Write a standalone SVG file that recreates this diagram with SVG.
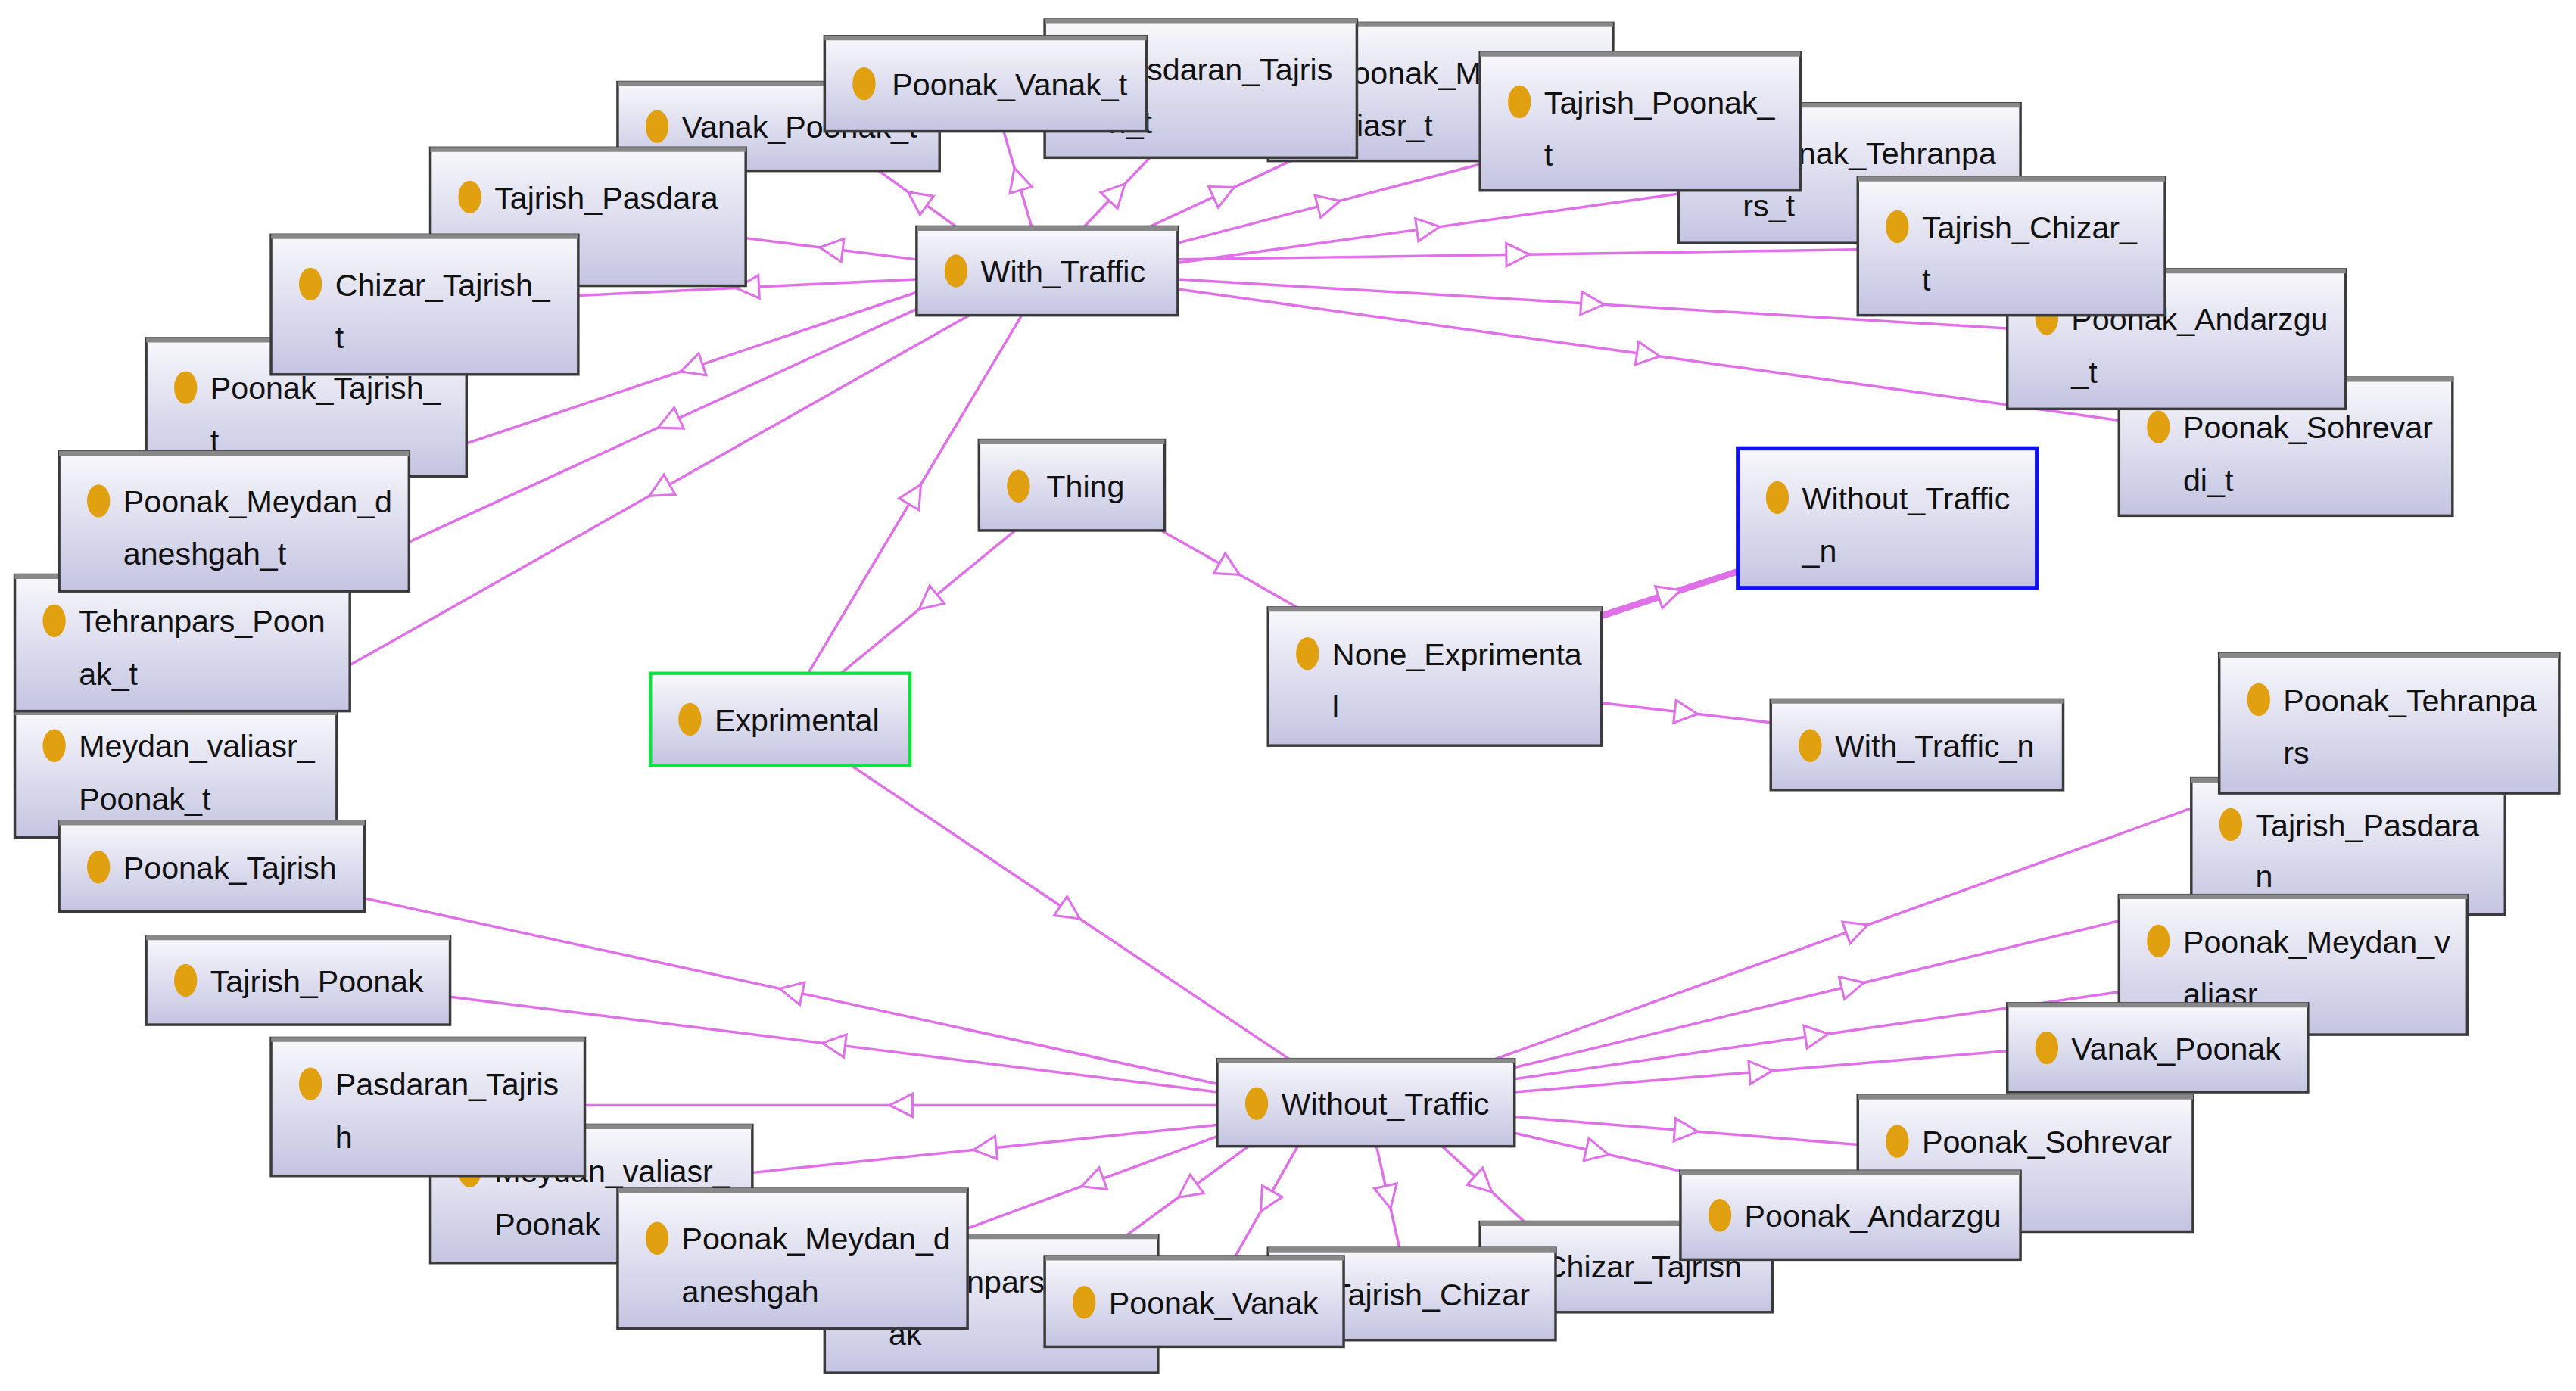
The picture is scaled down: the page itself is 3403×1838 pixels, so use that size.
<svg xmlns="http://www.w3.org/2000/svg" width="3403" height="1838" viewBox="0 0 3403 1838">
<style>
.n rect.b{fill:url(#g);stroke:#3a3a3a;stroke-width:1.6}
.n line.t{stroke:#888;stroke-width:3}
.n ellipse{fill:#e0a010}
.n text{font-family:"Liberation Sans Narrow","Liberation Sans",sans-serif;font-stretch:condensed;font-size:19px;fill:#111}
.e path{fill:none;stroke:#e070e8;stroke-width:1.6;marker-mid:url(#tri)}
</style>
<defs>
<linearGradient id="g" x1="0" y1="0" x2="0" y2="1"><stop offset="0" stop-color="#f8f8fc"/><stop offset="1" stop-color="#c4c4e2"/></linearGradient>
<marker id="tri" markerUnits="userSpaceOnUse" viewBox="-10 -10 20 20" markerWidth="20" markerHeight="20" refX="0" refY="0" orient="auto"><path d="M-7,-7 L7,0 L-7,7 z" fill="#fff" stroke="#e070e8" stroke-width="1.4"/></marker>
</defs>
<rect width="3403" height="1838" fill="#fff"/>
<g transform="scale(2.17)">
<g id="connectors" class="e">
<path d="M582,138 L558.5,121 L535,104"/>
<path d="M628,138 L619.5,109 L611,80"/>
<path d="M660,138 L680,117 L700,96"/>
<path d="M700,138 L745,117 L790,96"/>
<path d="M717,148 L809,124 L901,100"/>
<path d="M717,160 L869.5,139 L1022,118"/>
<path d="M717,158 L924,155 L1131,152"/>
<path d="M717,170 L969.5,185 L1222,200"/>
<path d="M717,176 L1003.5,216 L1290,256"/>
<path d="M558,158 L506,151.5 L454,145"/>
<path d="M558,170 L455,175 L352,180"/>
<path d="M558,178 L421,224 L284,270"/>
<path d="M565,185 L407,257.5 L249,330"/>
<path d="M590,192 L401.5,298.5 L213,405"/>
<path d="M741,660 L481.5,603.5 L222,547"/>
<path d="M741,665 L507.5,636 L274,607"/>
<path d="M741,673 L548.5,673 L356,673"/>
<path d="M741,685 L599.5,699.5 L458,714"/>
<path d="M741,692 L665,720 L589,748"/>
<path d="M760,698 L723,725 L686,752"/>
<path d="M790,698 L771,731.5 L752,765"/>
<path d="M838,698 L845,729 L852,760"/>
<path d="M878,698 L903,721 L928,744"/>
<path d="M922,690 L972.5,701.5 L1023,713"/>
<path d="M922,680 L1026.5,688.5 L1131,697"/>
<path d="M922,665 L1072,652.5 L1222,640"/>
<path d="M922,657 L1106,630.5 L1290,604"/>
<path d="M922,650 L1128,600 L1334,550"/>
<path d="M910,645 L1130.5,565.5 L1351,486"/>
<path d="M618,323 L565,366.5 L512,410"/>
<path d="M492,410 L557,301 L622,192"/>
<path d="M518,466 L651.5,555.5 L785,645"/>
<path d="M707,323 L748.5,346.5 L790,370"/>
<path d="M975,375 L1016.5,361.5 L1058,348" style="stroke-width:4"/>
<path d="M975,428 L1026.5,434 L1078,440"/>
</g>
<g id="Vanak_Poonak_t" class="n" transform="translate(376,50)"><rect class="b" width="196" height="54"/><line class="t" x1="0" y1="1" x2="196" y2="1"/><ellipse cx="24" cy="27" rx="7" ry="10"/><text x="39" y="34">Vanak_Poonak_t</text></g>
<g id="Poonak_Meydan_valiasr_t" class="n" transform="translate(772,14)"><rect class="b" width="210" height="84"/><line class="t" x1="0" y1="1" x2="210" y2="1"/><ellipse cx="24" cy="30" rx="7" ry="10"/><text x="39" y="37">Poonak_Meydan_v</text><text x="39" y="69">aliasr_t</text></g>
<g id="Pasdaran_Tajrish_t" class="n" transform="translate(636,12)"><rect class="b" width="190" height="84"/><line class="t" x1="0" y1="1" x2="190" y2="1"/><ellipse cx="24" cy="30" rx="7" ry="10"/><text x="39" y="37">Pasdaran_Tajris</text><text x="39" y="69">h_t</text></g>
<g id="Poonak_Vanak_t" class="n" transform="translate(502,22)"><rect class="b" width="196" height="58"/><line class="t" x1="0" y1="1" x2="196" y2="1"/><ellipse cx="24" cy="29" rx="7" ry="10"/><text x="41" y="36">Poonak_Vanak_t</text></g>
<g id="Poonak_Tehranpars_t" class="n" transform="translate(1022,63)"><rect class="b" width="208" height="85"/><line class="t" x1="0" y1="1" x2="208" y2="1"/><ellipse cx="24" cy="30" rx="7" ry="10"/><text x="39" y="37">Poonak_Tehranpa</text><text x="39" y="69">rs_t</text></g>
<g id="Tajrish_Poonak_t" class="n" transform="translate(901,32)"><rect class="b" width="195" height="84"/><line class="t" x1="0" y1="1" x2="195" y2="1"/><ellipse cx="24" cy="30" rx="7" ry="10"/><text x="39" y="37">Tajrish_Poonak_</text><text x="39" y="69">t</text></g>
<g id="Poonak_Sohrevardi_t" class="n" transform="translate(1290,230)"><rect class="b" width="203" height="84"/><line class="t" x1="0" y1="1" x2="203" y2="1"/><ellipse cx="24" cy="30" rx="7" ry="10"/><text x="39" y="37">Poonak_Sohrevar</text><text x="39" y="69">di_t</text></g>
<g id="Poonak_Andarzgu_t" class="n" transform="translate(1222,164)"><rect class="b" width="206" height="85"/><line class="t" x1="0" y1="1" x2="206" y2="1"/><ellipse cx="24" cy="30" rx="7" ry="10"/><text x="39" y="37">Poonak_Andarzgu</text><text x="39" y="69">_t</text></g>
<g id="Tajrish_Chizar_t" class="n" transform="translate(1131,108)"><rect class="b" width="187" height="84"/><line class="t" x1="0" y1="1" x2="187" y2="1"/><ellipse cx="24" cy="30" rx="7" ry="10"/><text x="39" y="37">Tajrish_Chizar_</text><text x="39" y="69">t</text></g>
<g id="Meydan_valiasr_Poonak_t" class="n" transform="translate(9,433)"><rect class="b" width="196" height="77"/><line class="t" x1="0" y1="1" x2="196" y2="1"/><ellipse cx="24" cy="21" rx="7" ry="10"/><text x="39" y="28">Meydan_valiasr_</text><text x="39" y="60">Poonak_t</text></g>
<g id="Tehranpars_Poonak_t" class="n" transform="translate(9,350)"><rect class="b" width="204" height="83"/><line class="t" x1="0" y1="1" x2="204" y2="1"/><ellipse cx="24" cy="28" rx="7" ry="10"/><text x="39" y="35">Tehranpars_Poon</text><text x="39" y="67">ak_t</text></g>
<g id="Poonak_Tajrish" class="n" transform="translate(36,500)"><rect class="b" width="186" height="55"/><line class="t" x1="0" y1="1" x2="186" y2="1"/><ellipse cx="24" cy="28" rx="7" ry="10"/><text x="39" y="35">Poonak_Tajrish</text></g>
<g id="Poonak_Tajrish_t" class="n" transform="translate(89,206)"><rect class="b" width="195" height="84"/><line class="t" x1="0" y1="1" x2="195" y2="1"/><ellipse cx="24" cy="30" rx="7" ry="10"/><text x="39" y="37">Poonak_Tajrish_</text><text x="39" y="69">t</text></g>
<g id="Poonak_Meydan_daneshgah_t" class="n" transform="translate(36,275)"><rect class="b" width="213" height="85"/><line class="t" x1="0" y1="1" x2="213" y2="1"/><ellipse cx="24" cy="30" rx="7" ry="10"/><text x="39" y="37">Poonak_Meydan_d</text><text x="39" y="69">aneshgah_t</text></g>
<g id="Tajrish_Pasdaran_t" class="n" transform="translate(262,90)"><rect class="b" width="192" height="84"/><line class="t" x1="0" y1="1" x2="192" y2="1"/><ellipse cx="24" cy="30" rx="7" ry="10"/><text x="39" y="37">Tajrish_Pasdara</text></g>
<g id="Chizar_Tajrish_t" class="n" transform="translate(165,143)"><rect class="b" width="187" height="85"/><line class="t" x1="0" y1="1" x2="187" y2="1"/><ellipse cx="24" cy="30" rx="7" ry="10"/><text x="39" y="37">Chizar_Tajrish_</text><text x="39" y="69">t</text></g>
<g id="With_Traffic" class="n" transform="translate(558,138)"><rect class="b" width="159" height="54"/><line class="t" x1="0" y1="1" x2="159" y2="1"/><ellipse cx="24" cy="27" rx="7" ry="10"/><text x="39" y="34">With_Traffic</text></g>
<g id="Thing" class="n" transform="translate(596,268)"><rect class="b" width="113" height="55"/><line class="t" x1="0" y1="1" x2="113" y2="1"/><ellipse cx="24" cy="28" rx="7" ry="10"/><text x="41" y="35">Thing</text></g>
<g id="Without_Traffic_n" class="n" transform="translate(1058,273)"><rect class="b" width="182" height="85" style="stroke:#1010f0;stroke-width:2.5"/><ellipse cx="24" cy="30" rx="7" ry="10"/><text x="39" y="37">Without_Traffic</text><text x="39" y="69">_n</text></g>
<g id="None_Exprimental" class="n" transform="translate(772,370)"><rect class="b" width="203" height="84"/><line class="t" x1="0" y1="1" x2="203" y2="1"/><ellipse cx="24" cy="28" rx="7" ry="10"/><text x="39" y="35">None_Exprimenta</text><text x="39" y="67">l</text></g>
<g id="With_Traffic_n" class="n" transform="translate(1078,426)"><rect class="b" width="178" height="55"/><line class="t" x1="0" y1="1" x2="178" y2="1"/><ellipse cx="24" cy="28" rx="7" ry="10"/><text x="39" y="35">With_Traffic_n</text></g>
<g id="Exprimental" class="n" transform="translate(396,410)"><rect class="b" width="158" height="56" style="stroke:#10e040;stroke-width:2"/><ellipse cx="24" cy="28" rx="7" ry="10"/><text x="39" y="35">Exprimental</text></g>
<g id="Tajrish_Pasdaran" class="n" transform="translate(1334,474)"><rect class="b" width="191" height="83"/><line class="t" x1="0" y1="1" x2="191" y2="1"/><ellipse cx="24" cy="28" rx="7" ry="10"/><text x="39" y="35">Tajrish_Pasdara</text><text x="39" y="66">n</text></g>
<g id="Poonak_Tehranpars" class="n" transform="translate(1351,398)"><rect class="b" width="207" height="85"/><line class="t" x1="0" y1="1" x2="207" y2="1"/><ellipse cx="24" cy="28" rx="7" ry="10"/><text x="39" y="35">Poonak_Tehranpa</text><text x="39" y="67">rs</text></g>
<g id="Poonak_Meydan_valiasr" class="n" transform="translate(1290,545)"><rect class="b" width="212" height="85"/><line class="t" x1="0" y1="1" x2="212" y2="1"/><ellipse cx="24" cy="28" rx="7" ry="10"/><text x="39" y="35">Poonak_Meydan_v</text><text x="39" y="67">aliasr</text></g>
<g id="Vanak_Poonak" class="n" transform="translate(1222,611)"><rect class="b" width="183" height="54"/><line class="t" x1="0" y1="1" x2="183" y2="1"/><ellipse cx="24" cy="27" rx="7" ry="10"/><text x="39" y="34">Vanak_Poonak</text></g>
<g id="Poonak_Sohrevardi" class="n" transform="translate(1131,667)"><rect class="b" width="204" height="83"/><line class="t" x1="0" y1="1" x2="204" y2="1"/><ellipse cx="24" cy="28" rx="7" ry="10"/><text x="39" y="35">Poonak_Sohrevar</text></g>
<g id="Chizar_Tajrish" class="n" transform="translate(901,744)"><rect class="b" width="178" height="55"/><line class="t" x1="0" y1="1" x2="178" y2="1"/><ellipse cx="24" cy="27" rx="7" ry="10"/><text x="39" y="34">Chizar_Tajrish</text></g>
<g id="Poonak_Andarzgu" class="n" transform="translate(1023,713)"><rect class="b" width="207" height="54"/><line class="t" x1="0" y1="1" x2="207" y2="1"/><ellipse cx="24" cy="27" rx="7" ry="10"/><text x="39" y="34">Poonak_Andarzgu</text></g>
<g id="Tajrish_Chizar" class="n" transform="translate(772,760)"><rect class="b" width="175" height="56"/><line class="t" x1="0" y1="1" x2="175" y2="1"/><ellipse cx="24" cy="28" rx="7" ry="10"/><text x="39" y="35">Tajrish_Chizar</text></g>
<g id="Tehranpars_Poonak" class="n" transform="translate(502,752)"><rect class="b" width="203" height="84"/><line class="t" x1="0" y1="1" x2="203" y2="1"/><ellipse cx="24" cy="28" rx="7" ry="10"/><text x="39" y="35">Tehranpars_Poon</text><text x="39" y="67">ak</text></g>
<g id="Poonak_Vanak" class="n" transform="translate(636,765)"><rect class="b" width="182" height="55"/><line class="t" x1="0" y1="1" x2="182" y2="1"/><ellipse cx="24" cy="28" rx="7" ry="10"/><text x="39" y="35">Poonak_Vanak</text></g>
<g id="Meydan_valiasr_Poonak" class="n" transform="translate(262,685)"><rect class="b" width="196" height="84"/><line class="t" x1="0" y1="1" x2="196" y2="1"/><ellipse cx="24" cy="28" rx="7" ry="10"/><text x="39" y="35">Meydan_valiasr_</text><text x="39" y="67">Poonak</text></g>
<g id="Pasdaran_Tajrish" class="n" transform="translate(165,632)"><rect class="b" width="191" height="84"/><line class="t" x1="0" y1="1" x2="191" y2="1"/><ellipse cx="24" cy="28" rx="7" ry="10"/><text x="39" y="35">Pasdaran_Tajris</text><text x="39" y="67">h</text></g>
<g id="Poonak_Meydan_daneshgah" class="n" transform="translate(376,724)"><rect class="b" width="213" height="85"/><line class="t" x1="0" y1="1" x2="213" y2="1"/><ellipse cx="24" cy="30" rx="7" ry="10"/><text x="39" y="37">Poonak_Meydan_d</text><text x="39" y="69">aneshgah</text></g>
<g id="Tajrish_Poonak" class="n" transform="translate(89,570)"><rect class="b" width="185" height="54"/><line class="t" x1="0" y1="1" x2="185" y2="1"/><ellipse cx="24" cy="27" rx="7" ry="10"/><text x="39" y="34">Tajrish_Poonak</text></g>
<g id="Without_Traffic" class="n" transform="translate(741,645)"><rect class="b" width="181" height="53"/><line class="t" x1="0" y1="1" x2="181" y2="1"/><ellipse cx="24" cy="27" rx="7" ry="10"/><text x="39" y="34">Without_Traffic</text></g>
</g>
</svg>
